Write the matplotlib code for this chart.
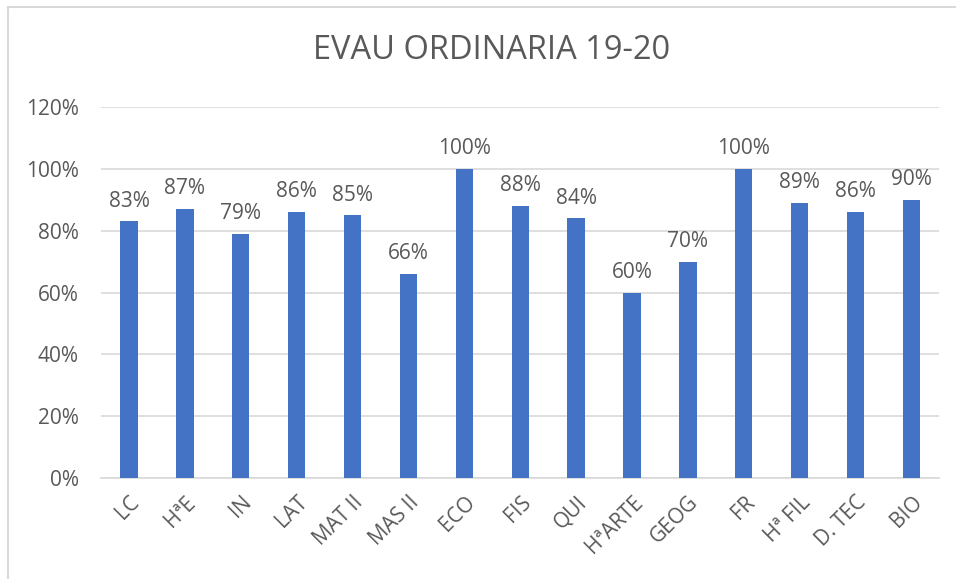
import matplotlib.pyplot as plt
from matplotlib.patches import Rectangle
from matplotlib.ticker import FuncFormatter

subjects = ["LC", "HªE", "IN", "LAT", "MAT II", "MAS II", "ECO", "FIS", "QUI",
            "HªARTE", "GEOG", "FR", "Hª FIL", "D. TEC", "BIO"]
pass_rate = [83, 87, 79, 86, 85, 66, 100, 88, 84, 60, 70, 100, 89, 86, 90]
y_ticks = [0, 20, 40, 60, 80, 100, 120]

plt.rcParams['font.family'] = ['Open Sans', 'DejaVu Sans']
grey = '#595959'

fig = plt.figure(figsize=(9.56, 5.79), dpi=100)
ax = fig.add_axes([0.1057, 0.1744, 0.877, 0.6406])

# chart frame (only top/left edges fall inside the image)
fig.patches.append(Rectangle((8 / 956, -0.1), 1.2, 1 - 7 / 579 + 0.1,
                             transform=fig.transFigure, fill=False,
                             edgecolor='#d9d9d9', linewidth=1.5))

x = list(range(len(subjects)))
bars = ax.bar(x, pass_rate, width=0.31, color='#4472c4', zorder=3)

for xi, v in zip(x, pass_rate):
    ax.annotate(f"{v}%", (xi, v), xytext=(0, 7), textcoords='offset points',
                ha='center', va='bottom', fontsize=15, color=grey)

ax.set_xlim(-0.5, len(subjects) - 0.5)
ax.set_ylim(0, 120)
ax.set_yticks(y_ticks)
ax.yaxis.set_major_formatter(FuncFormatter(lambda v, p: f"{v:.0f}%"))
ax.grid(axis='y', color='#d9d9d9', linewidth=1.2, zorder=0)
ax.set_xticks(x)
ax.set_xticklabels(subjects, rotation=45, ha='right', va='top',
                   rotation_mode='anchor')

for s in ['top', 'right', 'left']:
    ax.spines[s].set_visible(False)
ax.spines['bottom'].set_color('#d9d9d9')
ax.spines['bottom'].set_linewidth(1.2)
ax.tick_params(axis='both', length=0, colors=grey, labelsize=15)
ax.tick_params(axis='y', pad=16)
ax.tick_params(axis='x', pad=10)

fig.text(0.514, 0.913, "EVAU ORDINARIA 19-20", ha='center', va='center',
         fontsize=23.5, color=grey)

fig.savefig('out.png', dpi=100)
